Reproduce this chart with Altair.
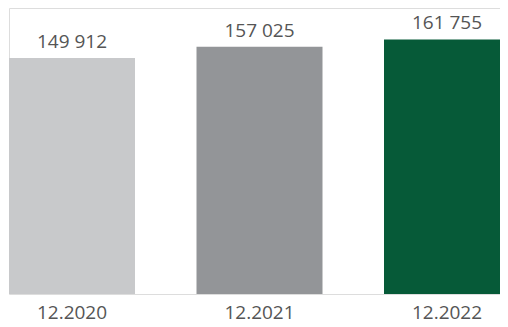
import altair as alt
import pandas as pd

periods = ["12.2020", "12.2021", "12.2022"]
values = [149912, 157025, 161755]
labels = ["149 912", "157 025", "161 755"]
colors = ["#c8c9cb", "#939598", "#065a38"]

df = pd.DataFrame({"period": periods, "value": values, "label": labels})

x = alt.X("period:N", sort=periods, title=None,
          scale=alt.Scale(paddingInner=0.328, paddingOuter=0, range=[0, 501]),
          axis=alt.Axis(labelAngle=0, ticks=False, domain=False, grid=False, labelPadding=24,
                        labelBaseline="alphabetic",
                        labelFontSize=19, labelColor="#555555", labelFont="Open Sans",
                        labelFontWeight="normal"))
y = alt.Y("value:Q", title=None, scale=alt.Scale(domain=[0, 181700], nice=False, zero=True),
          axis=None)

bars = alt.Chart(df).mark_bar().encode(
    x=x, y=y,
    color=alt.Color("period:N", scale=alt.Scale(domain=periods, range=colors), legend=None),
)
text = alt.Chart(df).mark_text(baseline="alphabetic", dy=-10, fontSize=19,
                               font="Open Sans", color="#555555").encode(
    x=alt.X("period:N", sort=periods), y="value:Q", text="label:N")

chart = (bars + text).properties(
    width=491, height=286,
    padding={"left": 1, "right": 0, "top": 0, "bottom": 31},
    autosize=alt.AutoSizeParams(type="none"),
).configure_view(stroke=None).configure(background="white")

chart.save("out.html", embed_options={"renderer": "svg", "actions": False})
